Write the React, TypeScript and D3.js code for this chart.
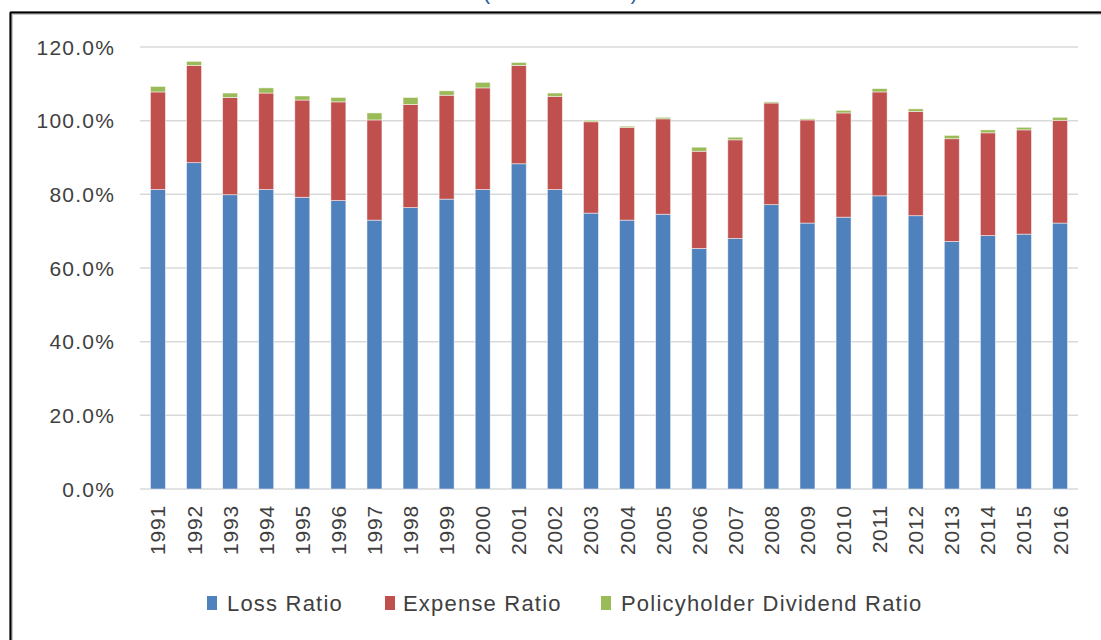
import React from "react";
import * as d3 from "d3";

const years = ["1991","1992","1993","1994","1995","1996","1997","1998","1999","2000","2001","2002","2003","2004","2005","2006","2007","2008","2009","2010","2011","2012","2013","2014","2015","2016"];
const lossRatio = [81.3,88.6,79.9,81.3,79.2,78.3,73.0,76.4,78.7,81.3,88.3,81.3,74.9,73.0,74.6,65.3,68.0,77.2,72.2,73.8,79.6,74.2,67.2,68.8,69.2,72.2];
const expenseRatio = [26.5,26.4,26.4,26.2,26.4,26.8,27.2,28.0,28.2,27.6,26.7,25.3,24.8,25.2,25.9,26.4,26.8,27.6,28.0,28.3,28.2,28.3,27.9,27.9,28.3,27.9];
const dividendRatio = [1.5,1.1,1.2,1.4,1.1,1.2,1.9,1.9,1.2,1.5,0.8,0.9,0.4,0.3,0.4,1.1,0.7,0.3,0.3,0.7,0.9,0.7,0.9,0.8,0.7,0.8];
const seriesNames = ["Loss Ratio","Expense Ratio","Policyholder Dividend Ratio"];
const seriesColors = ["#4F81BD","#C0504D","#9BBB59"];
const yTicks = [0,20,40,60,80,100,120];

const W = 1101, H = 640;
const M = { left: 140, right: 1078, top: 47, bottom: 489 };
const FONT = "'Liberation Sans', Arial, sans-serif";

export default function App() {
  const x = d3.scaleBand<string>().domain(years).range([M.left, M.right]).paddingInner(0.585).paddingOuter(0.29);
  const y = d3.scaleLinear().domain([0, 120]).range([M.bottom, M.top]);
  const rows = years.map((yr, i) => ({ year: yr, loss: lossRatio[i], expense: expenseRatio[i], dividend: dividendRatio[i] }));
  const stack = d3.stack<any>().keys(["loss","expense","dividend"])(rows);

  const legendItems = [
    { x: 207, textX: 227 },
    { x: 385, textX: 403 },
    { x: 601, textX: 621 },
  ];

  return (
    <svg width={W} height={H} style={{ position: "absolute", left: 0, top: 0, background: "#fff" }}>
      <rect x={0} y={0} width={W} height={H} fill="#fff" />
      {/* title, cut off at the top edge as in the reference */}
      <text x={561} y={-1} textAnchor="middle" fontFamily={FONT} fontSize={22} letterSpacing={1.5} fill="#2E5C9A">(1991 – 2016)</text>
      {/* outer border */}
      <line x1={11} y1={13} x2={W} y2={13} stroke="#c8c8c8" strokeWidth={4} />
      <line x1={11} y1={13} x2={11} y2={H} stroke="#c8c8c8" strokeWidth={4} />
      <line x1={10} y1={12.5} x2={W} y2={12.5} stroke="#000" strokeWidth={2} />
      <line x1={10.5} y1={12} x2={10.5} y2={H} stroke="#000" strokeWidth={2} />

      {/* gridlines */}
      {yTicks.map(t => (
        <line key={t} x1={M.left} x2={M.right} y1={y(t)} y2={y(t)} stroke="#D9D9D9" strokeWidth={1.5} />
      ))}
      {/* y labels */}
      {yTicks.map(t => (
        <text key={t} x={115} y={y(t)} dy="0.36em" textAnchor="end" fontFamily={FONT} fontSize={21} letterSpacing={1.2} fill="#404040">{t.toFixed(1)}%</text>
      ))}
      {/* bars */}
      {stack.map((s, si) => (
        <g key={si} fill={seriesColors[si]}>
          {s.map((d, i) => (
            <rect key={i} x={x(years[i])!} width={x.bandwidth()} y={y(d[1])} height={y(d[0]) - y(d[1])} stroke="#ffffff" strokeOpacity={0.6} strokeWidth={0.8} />
          ))}
        </g>
      ))}
      {/* x labels */}
      {years.map(yr => {
        const cx = x(yr)! + x.bandwidth() / 2;
        return (
          <text key={yr} transform={`translate(${cx + 7.5},${505}) rotate(-90)`} textAnchor="end" fontFamily={FONT} fontSize={21} letterSpacing={0.8} fill="#404040">{yr}</text>
        );
      })}
      {/* legend */}
      {seriesNames.map((n, i) => (
        <g key={n}>
          <rect x={legendItems[i].x} y={596} width={10} height={14} fill={seriesColors[i]} />
          <text x={legendItems[i].textX} y={603} dy="0.36em" fontFamily={FONT} fontSize={22} letterSpacing={1.2} fill="#404040">{n}</text>
        </g>
      ))}
    </svg>
  );
}
